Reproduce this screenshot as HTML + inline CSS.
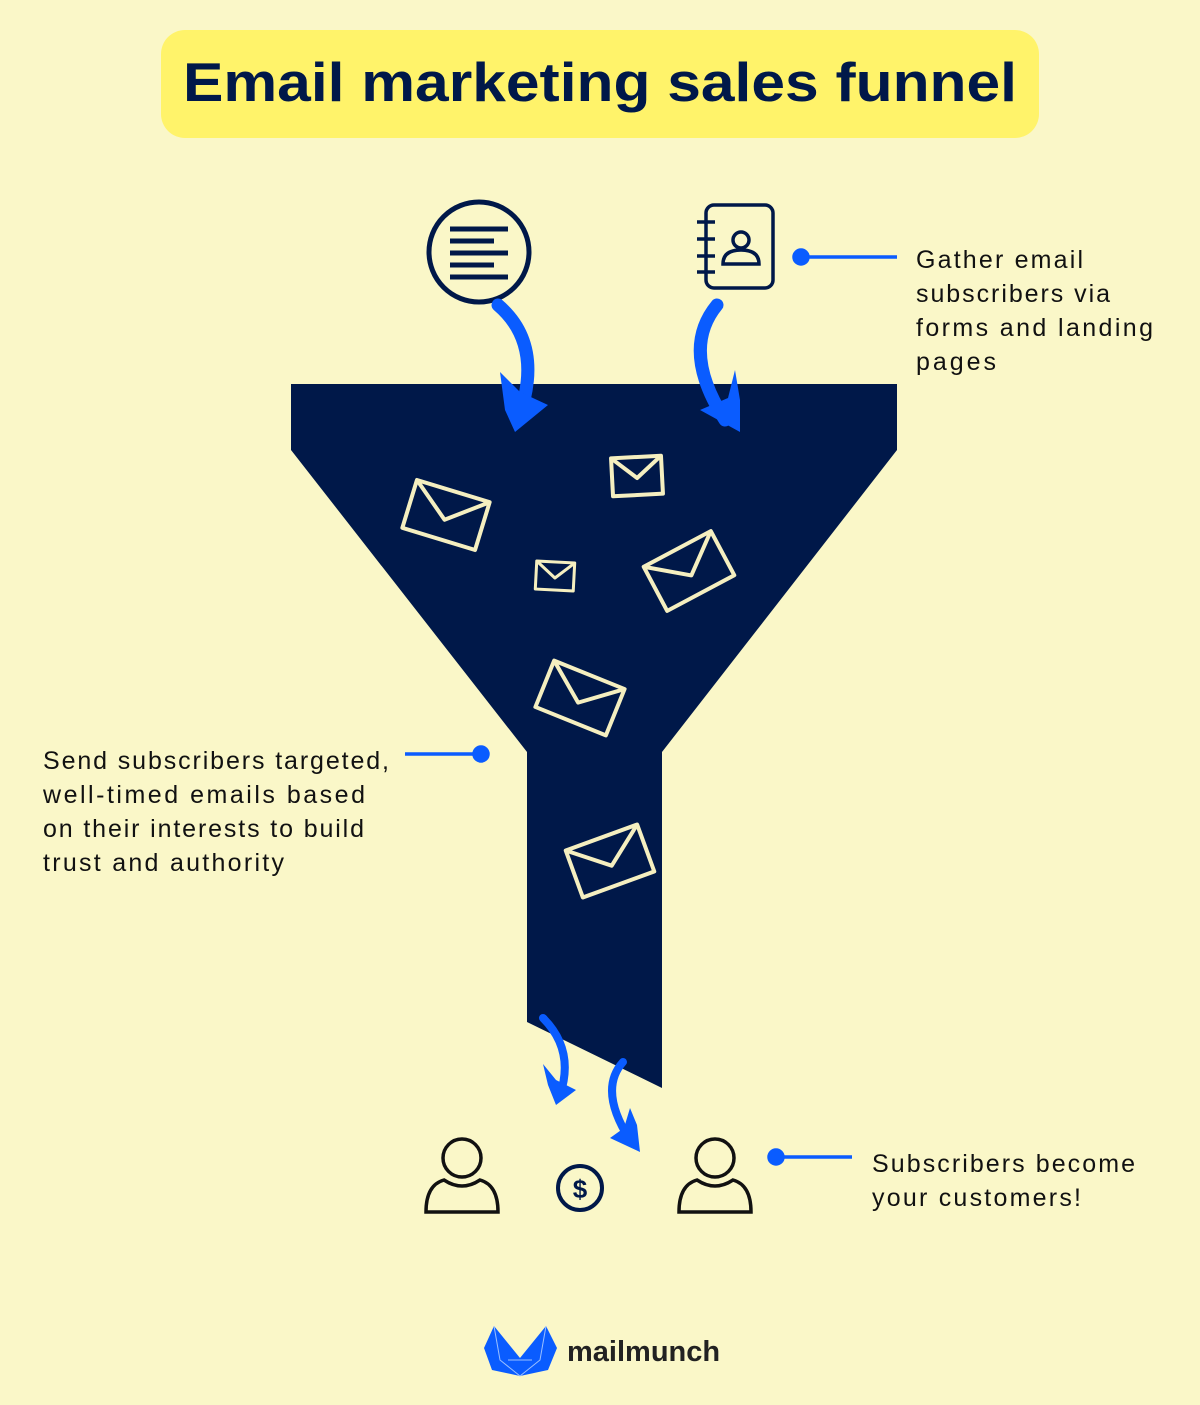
<!DOCTYPE html>
<html><head><style>
body{margin:0;width:1200px;height:1400px;background:#FAF7C8;font-family:"Liberation Sans",sans-serif;overflow:hidden}
</style></head><body>
<svg width="1200" height="1400" xmlns="http://www.w3.org/2000/svg">
<rect width="1200" height="1400" fill="#FAF7C8"/>
<rect x="161" y="30" width="878" height="108" rx="24" fill="#FFF36A"/>
<text x="183" y="101" textLength="834" lengthAdjust="spacingAndGlyphs" font-family="Liberation Sans" font-weight="bold" font-size="55" fill="#001849">Email marketing sales funnel</text>

<polygon points="291,384 897,384 897,450 662,752 662,1088 527,1022 527,752 291,450" fill="#001849"/>

<circle cx="479" cy="252" r="50" fill="none" stroke="#001849" stroke-width="5"/>
<g stroke="#001849" stroke-width="5">
<line x1="450" y1="229" x2="508" y2="229"/><line x1="450" y1="241" x2="494" y2="241"/>
<line x1="450" y1="253" x2="508" y2="253"/><line x1="450" y1="265" x2="494" y2="265"/>
<line x1="450" y1="277" x2="508" y2="277"/></g>
<rect x="706" y="205" width="67" height="83" rx="8" fill="none" stroke="#001849" stroke-width="3.5"/>
<g stroke="#001849" stroke-width="3.5"><line x1="697" y1="222" x2="715" y2="222"/><line x1="697" y1="239" x2="715" y2="239"/><line x1="697" y1="256" x2="715" y2="256"/><line x1="697" y1="272" x2="715" y2="272"/></g>
<circle cx="741" cy="240" r="8" fill="none" stroke="#001849" stroke-width="3.5"/>
<path d="M723,264 Q723,250 741,250 Q759,250 759,264 Z" fill="none" stroke="#001849" stroke-width="3.5"/>

<g fill="none" stroke="#0A5CFF" stroke-linecap="round">
<path d="M498,305 Q545,345 518,420" stroke-width="13"/>
<path d="M717,305 Q680,350 725,420" stroke-width="13"/>
<path d="M543,1018 Q575,1050 560,1095" stroke-width="8"/>
<path d="M623,1062 Q598,1090 630,1140" stroke-width="8"/>
</g>
<g fill="#0A5CFF">
<polygon points="500,372 520,392 548,405 515,432 505,410"/>
<polygon points="735,370 728,398 700,410 740,432 740,400"/>
<polygon points="543,1064 556,1080 576,1090 556,1105 548,1085"/>
<polygon points="630,1108 624,1128 610,1138 640,1152 637,1125"/>
</g>

<g fill="none" stroke="#F5EFC0" stroke-width="4" stroke-linejoin="round">
<g transform="translate(446,515) rotate(17)"><rect x="-38" y="-25" width="76" height="50"/><polyline points="-38,-25 0,5 38,-25"/></g>
<g transform="translate(637,476) rotate(-3)"><rect x="-25" y="-19" width="50" height="38"/><polyline points="-25,-19 0,2 25,-19"/></g>
<g transform="translate(555,576) rotate(3)"><rect x="-19" y="-14" width="38" height="28" stroke-width="3"/><polyline points="-19,-14 0,2 19,-14" stroke-width="3"/></g>
<g transform="translate(689,571) rotate(-28)"><rect x="-38" y="-25" width="76" height="50"/><polyline points="-38,-25 0,5 38,-25"/></g>
<g transform="translate(580,698) rotate(22)"><rect x="-38" y="-25" width="76" height="50"/><polyline points="-38,-25 0,5 38,-25"/></g>
<g transform="translate(610,861) rotate(-20)"><rect x="-38" y="-25" width="76" height="50"/><polyline points="-38,-25 0,5 38,-25"/></g>
</g>

<g fill="none" stroke="#111" stroke-width="3.5">
<circle cx="462" cy="1158" r="19"/>
<path d="M426,1212 Q426,1185 444,1180 Q462,1192 480,1180 Q498,1185 498,1212 Z"/>
<circle cx="715" cy="1158" r="19"/>
<path d="M679,1212 Q679,1185 697,1180 Q715,1192 733,1180 Q751,1185 751,1212 Z"/>
</g>
<circle cx="580" cy="1188" r="22" fill="none" stroke="#001849" stroke-width="4"/>
<text x="580" y="1198" text-anchor="middle" font-weight="bold" font-size="26" fill="#001849">$</text>

<g stroke="#0A5CFF" stroke-width="3.5" fill="#0A5CFF">
<line x1="801" y1="257" x2="897" y2="257"/><circle cx="801" cy="257" r="7"/>
<line x1="405" y1="754" x2="481" y2="754"/><circle cx="481" cy="754" r="7"/>
<line x1="776" y1="1157" x2="852" y2="1157"/><circle cx="776" cy="1157" r="7"/>
</g>

<g font-family="Liberation Sans" font-size="25" fill="#111" lengthAdjust="spacing">
<text x="916" y="268" textLength="167">Gather email</text>
<text x="916" y="302" textLength="194">subscribers via</text>
<text x="916" y="336" textLength="237">forms and landing</text>
<text x="916" y="370" textLength="80">pages</text>
<text x="43" y="769" textLength="346">Send subscribers targeted,</text>
<text x="43" y="803" textLength="322">well-timed emails based</text>
<text x="43" y="837" textLength="321">on their interests to build</text>
<text x="43" y="871" textLength="241">trust and authority</text>
<text x="872" y="1172" textLength="263">Subscribers become</text>
<text x="872" y="1206" textLength="209">your customers!</text>
</g>

<polygon points="494,1326 520,1358 546,1326 557,1348 548,1370 520,1376 492,1370 484,1348" fill="#0A5CFF"/>
<g stroke="#9BC0FF" stroke-width="1" fill="none"><polyline points="494,1326 500,1360 520,1376 540,1360 546,1326"/><line x1="508" y1="1360" x2="532" y2="1360"/></g>
<text x="567" y="1361" font-family="Liberation Sans" font-weight="bold" font-size="29" fill="#222">mailmunch</text>
</svg>
</body></html>
